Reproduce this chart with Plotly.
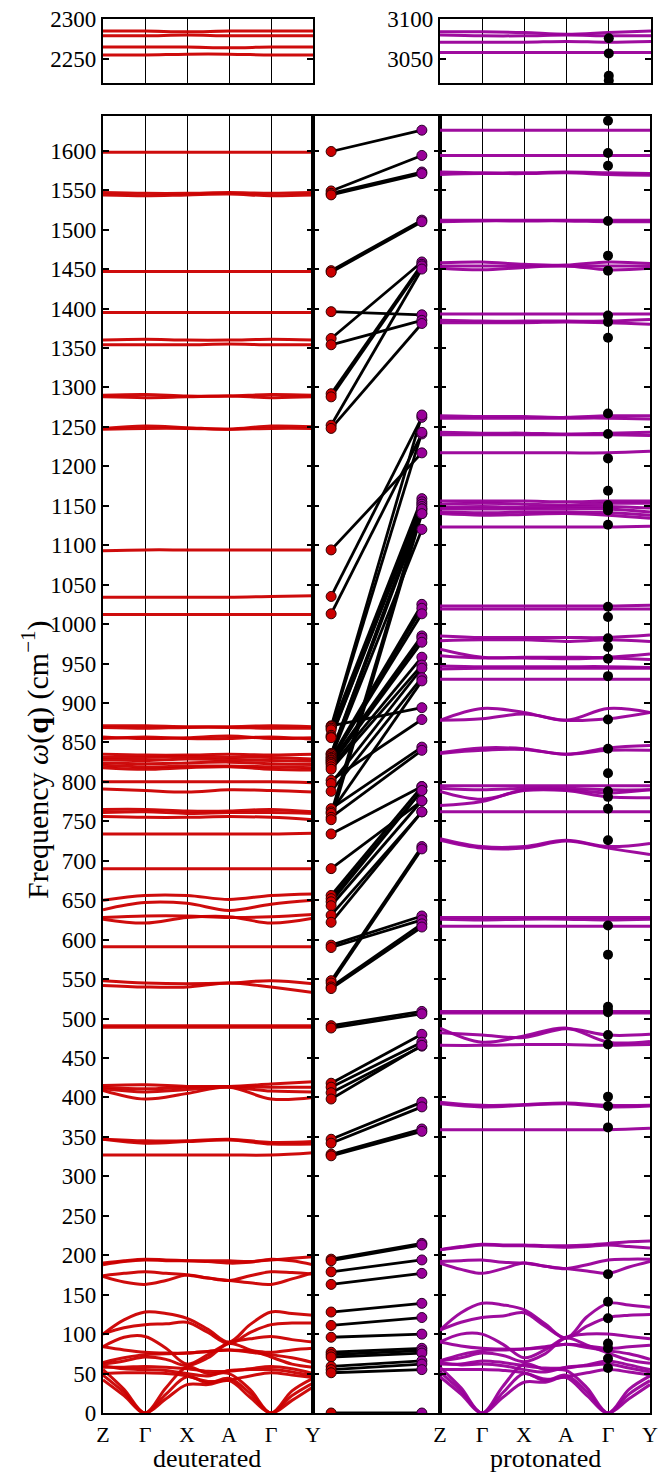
import plotly.graph_objects as go

W, H = 668, 1474
RED = "rgb(204,0,0)"
PUR = "rgb(153,0,153)"
FONT = "Liberation Serif"

K6 = [0, 1, 2, 3, 4, 5]
K11 = [0, 0.5, 1, 1.5, 2, 2.5, 3, 3.5, 4, 4.5, 5]
KLABELS = ["Z", "Γ", "X", "A", "Γ", "Y"]

# ---------------- deuterated bands (values at Z, Γ, X, A, Γ, Y) ----------------
D_TOP = [
    [2285, 2285, 2284, 2285, 2285, 2285],
    [2279, 2279, 2280, 2279, 2279, 2279],
    [2265, 2265, 2265, 2264, 2265, 2265],
    [2255, 2255, 2256, 2256, 2255, 2255],
]
D_BANDS6 = [
    [1598, 1598, 1598, 1598, 1598, 1598],
    [1547, 1546, 1546, 1547, 1546, 1547],
    [1544, 1543, 1544, 1545, 1543, 1544],
    [1447, 1447, 1447, 1447, 1447, 1447],
    [1395, 1395, 1395, 1395, 1395, 1395],
    [1360, 1361, 1360, 1360, 1361, 1360],
    [1354, 1354, 1354, 1355, 1354, 1354],
    [1290, 1291, 1289, 1289, 1291, 1290],
    [1288, 1287, 1288, 1289, 1287, 1288],
    [1248, 1251, 1249, 1247, 1251, 1250],
    [1247, 1248, 1248, 1247, 1248, 1248],
    [1093, 1094, 1094, 1094, 1094, 1094],
    [1034, 1034, 1034, 1034, 1035, 1036],
    [1012, 1012, 1012, 1012, 1012, 1012],
    [871, 871, 870, 870, 871, 870],
    [869, 868, 869, 869, 868, 868],
    [857, 855, 856, 858, 855, 856],
    [855, 857, 855, 855, 857, 854],
    [835, 834, 834, 835, 834, 835],
    [831, 831, 832, 831, 831, 829],
    [828, 827, 829, 828, 827, 826],
    [824, 823, 824, 825, 823, 822],
    [821, 819, 820, 820, 819, 818],
    [818, 816, 818, 819, 816, 815],
    [800, 800, 800, 800, 800, 799],
    [791, 789, 787, 790, 789, 787],
    [765, 765, 763, 763, 765, 762],
    [761, 762, 760, 761, 761, 760],
    [756, 755, 755, 756, 755, 752],
    [734, 734, 734, 734, 734, 735],
    [690, 690, 690, 690, 690, 690],
    [650, 656, 656, 651, 656, 658],
    [638, 647, 646, 637, 645, 650],
    [628, 630, 630, 628, 629, 632],
    [626, 621, 628, 629, 621, 627],
    [591, 591, 591, 591, 591, 591],
    [548, 545, 544, 545, 548, 544],
    [542, 540, 540, 545, 540, 533],
    [491, 491, 491, 491, 491, 491],
    [489, 489, 489, 489, 489, 489],
    [415, 416, 414, 414, 417, 420],
    [413, 411, 413, 414, 413, 413],
    [411, 407, 410, 413, 408, 407],
    [409, 398, 405, 413, 398, 400],
    [347, 345, 345, 347, 343, 344],
    [347, 342, 344, 346, 341, 341],
    [327, 327, 327, 327, 327, 330],
]
# low-frequency deuterated bands (values at Z, ½, Γ, ½, X, ½, A, ½, Γ, ½, Y)
D_BANDS11 = [
    [188, 192, 194, 193, 193, 193, 193, 192, 194, 196, 198],
    [190, 193, 195, 194, 193, 192, 190, 191, 195, 193, 188],
    [174, 177, 179, 177, 175, 171, 168, 174, 179, 178, 176],
    [173, 166, 163, 168, 175, 171, 168, 165, 163, 170, 178],
    [100, 118, 128, 126, 120, 106, 90, 112, 128, 126, 124],
    [100, 108, 112, 113, 115, 102, 88, 102, 112, 114, 114],
    [84, 96, 97, 82, 62, 74, 89, 94, 97, 93, 90],
    [84, 80, 77, 76, 76, 78, 80, 79, 77, 80, 82],
    [64, 70, 74, 75, 76, 78, 80, 77, 74, 70, 64],
    [62, 66, 71, 68, 60, 70, 88, 80, 71, 62, 58],
    [58, 58, 59, 58, 56, 53, 53, 56, 59, 56, 50],
    [60, 56, 55, 54, 50, 47, 54, 55, 55, 52, 47],
    [50, 51, 51, 50, 47, 40, 42, 47, 51, 48, 45],
    [55, 30, 0, 32, 58, 50, 50, 30, 0, 28, 44],
    [48, 26, 0, 24, 46, 38, 44, 25, 0, 22, 38],
    [42, 22, 0, 18, 36, 36, 41, 20, 0, 16, 33],
]

# ---------------- protonated bands ----------------
P_TOP = [
    [3084, 3084, 3083, 3081, 3083, 3085],
    [3080, 3079, 3079, 3080, 3079, 3079],
    [3071, 3071, 3071, 3072, 3071, 3072],
    [3058, 3058, 3058, 3058, 3058, 3058],
]
P_BANDS6 = [
    [1626, 1626, 1626, 1626, 1626, 1626],
    [1594, 1594, 1594, 1594, 1594, 1594],
    [1573, 1572, 1572, 1573, 1572, 1571],
    [1570, 1571, 1571, 1572, 1570, 1569],
    [1512, 1512, 1512, 1512, 1512, 1512],
    [1510, 1511, 1511, 1511, 1510, 1510],
    [1458, 1459, 1456, 1455, 1459, 1457],
    [1454, 1454, 1454, 1454, 1454, 1454],
    [1451, 1449, 1452, 1454, 1449, 1451],
    [1393, 1393, 1393, 1393, 1393, 1393],
    [1385, 1384, 1384, 1384, 1384, 1386],
    [1382, 1382, 1382, 1383, 1382, 1380],
    [1264, 1263, 1263, 1262, 1264, 1264],
    [1261, 1261, 1261, 1261, 1261, 1260],
    [1243, 1242, 1242, 1241, 1242, 1243],
    [1240, 1240, 1240, 1240, 1240, 1239],
    [1217, 1217, 1217, 1217, 1217, 1219],
    [1156, 1156, 1156, 1155, 1156, 1156],
    [1152, 1153, 1152, 1151, 1153, 1153],
    [1148, 1149, 1148, 1149, 1149, 1147],
    [1146, 1146, 1146, 1146, 1146, 1142],
    [1142, 1141, 1142, 1142, 1141, 1138],
    [1140, 1138, 1139, 1140, 1138, 1134],
    [1123, 1123, 1123, 1123, 1123, 1124],
    [1023, 1023, 1023, 1023, 1023, 1024],
    [1019, 1019, 1019, 1019, 1019, 1019],
    [985, 983, 983, 983, 983, 986],
    [979, 980, 980, 978, 980, 978],
    [968, 958, 958, 958, 958, 962],
    [960, 957, 957, 956, 957, 955],
    [947, 946, 946, 946, 946, 945],
    [943, 944, 944, 944, 944, 944],
    [930, 930, 930, 930, 930, 930],
    [878, 893, 888, 878, 893, 888],
    [878, 880, 886, 878, 880, 888],
    [837, 843, 842, 835, 843, 846],
    [836, 840, 841, 835, 840, 840],
    [795, 795, 795, 795, 795, 795],
    [792, 790, 792, 792, 790, 790],
    [788, 778, 789, 789, 781, 780],
    [770, 775, 790, 790, 786, 790],
    [762, 762, 762, 762, 762, 762],
    [728, 718, 718, 726, 718, 722],
    [726, 716, 716, 725, 716, 708],
    [628, 628, 628, 628, 628, 628],
    [626, 625, 626, 626, 625, 626],
    [617, 617, 617, 617, 617, 617],
    [509, 509, 509, 509, 509, 509],
    [507, 507, 507, 507, 507, 507],
    [488, 470, 478, 488, 470, 471],
    [482, 479, 476, 487, 479, 480],
    [466, 466, 467, 467, 466, 467],
    [394, 390, 391, 393, 390, 390],
    [392, 388, 390, 392, 388, 389],
    [359, 359, 359, 359, 359, 361],
]
P_BANDS11 = [
    [207, 211, 214, 213, 213, 212, 212, 213, 215, 217, 218],
    [207, 210, 213, 212, 212, 211, 210, 211, 213, 211, 209],
    [192, 193, 194, 191, 190, 186, 183, 188, 194, 195, 195],
    [190, 182, 177, 183, 190, 186, 183, 180, 177, 185, 192],
    [105, 127, 139, 137, 131, 113, 95, 122, 139, 137, 134],
    [105, 115, 121, 123, 127, 110, 95, 110, 121, 124, 125],
    [90, 100, 100, 87, 70, 80, 96, 100, 100, 97, 94],
    [90, 85, 82, 81, 81, 84, 87, 85, 82, 84, 86],
    [66, 74, 79, 80, 81, 83, 87, 83, 79, 75, 68],
    [66, 70, 76, 73, 65, 75, 95, 86, 76, 67, 63],
    [62, 62, 66, 64, 60, 57, 57, 61, 66, 61, 55],
    [64, 61, 62, 60, 55, 52, 58, 60, 62, 57, 52],
    [55, 55, 55, 54, 51, 43, 46, 51, 55, 52, 48],
    [58, 32, 0, 34, 62, 55, 54, 32, 0, 30, 47],
    [52, 28, 0, 26, 50, 41, 48, 27, 0, 24, 41],
    [46, 24, 0, 20, 39, 39, 45, 22, 0, 18, 36],
]

# measured frequencies at Γ (black dots, protonated panel)
P_MEAS_TOP = [3076, 3057, 3029, 3023]
P_MEAS = [1638, 1597, 1581, 1511, 1467, 1448, 1391, 1383, 1363, 1267, 1241,
          1210, 1169, 1151, 1148, 1144, 1126, 1022, 1009, 982, 971, 956, 934,
          879, 842, 811, 788, 781, 766, 726, 618, 581, 515, 510, 508, 479,
          467, 401, 389, 362, 176, 141, 120, 88, 82, 69, 57]

# Γ-point mode correspondence (deuterated -> protonated)
MID_DEUT = [1599, 1549, 1546, 1544, 1448, 1446, 1396, 1362, 1354, 1292,
            1288, 1252, 1248, 1094, 1035, 1013,
            871, 870, 868, 866, 859, 857, 856, 836, 835, 833,
            831, 830, 828, 827, 825, 824, 822, 819, 816, 802,
            798, 788, 766, 762, 760, 755, 752,
            734, 690, 656, 652, 648, 643, 631, 622, 593, 590,
            548, 545, 540, 538, 491, 488, 418, 413, 406, 398,
            347, 342, 328, 326, 195, 193, 179, 163, 128, 111,
            96, 77, 74, 71, 59, 55, 51, 0]
MID_PROT = [1626, 1594, 1573, 1571, 1512, 1510, 1392, 1459, 1385, 1456,
            1454, 1450, 1381, 1217, 1262, 1241,
            894, 1265, 1243, 1159, 1155, 1152, 1149, 1146, 1143, 1140,
            1120, 1025, 1020, 1013, 985, 982, 977, 958, 948, 879,
            944, 932, 844, 928, 1146, 840, 1140,
            794, 776, 794, 789, 789, 776, 762, 762, 630, 625,
            718, 715, 620, 616, 509, 506, 480, 470, 465, 466,
            394, 388, 360, 357, 215, 213, 194, 177, 139, 121,
            100, 82, 79, 76, 66, 62, 55, 0]

fig = go.Figure()


def add_bands(bands, color, xa, ya):
    for b in bands:
        ks = K6 if len(b) == 6 else K11
        fig.add_trace(go.Scatter(
            x=ks, y=b, mode="lines", xaxis=xa, yaxis=ya,
            line=dict(color=color, width=3, shape="spline", smoothing=1.0),
            opacity=0.95, hoverinfo="skip", showlegend=False))


add_bands(D_BANDS6 + D_BANDS11, RED, "x", "y")
add_bands(D_TOP, RED, "x4", "y4")
add_bands(P_BANDS6 + P_BANDS11, PUR, "x3", "y3")
add_bands(P_TOP, PUR, "x5", "y5")

# measured points at Γ
fig.add_trace(go.Scatter(x=[K6[4]] * len(P_MEAS), y=P_MEAS, mode="markers",
                         xaxis="x3", yaxis="y3", marker=dict(color="black", size=10),
                         hoverinfo="skip", showlegend=False))
fig.add_trace(go.Scatter(x=[K6[4]] * len(P_MEAS_TOP), y=P_MEAS_TOP, mode="markers",
                         xaxis="x5", yaxis="y5", marker=dict(color="black", size=10),
                         hoverinfo="skip", showlegend=False))

# correspondence lines
lx, ly = [], []
for d, p in zip(MID_DEUT, MID_PROT):
    lx += [0, 1, None]
    ly += [d, p, None]
fig.add_trace(go.Scatter(x=lx, y=ly, mode="lines", xaxis="x2", yaxis="y2",
                         line=dict(color="black", width=2.8), hoverinfo="skip",
                         showlegend=False))
fig.add_trace(go.Scatter(x=[0] * len(MID_DEUT), y=MID_DEUT, mode="markers",
                         xaxis="x2", yaxis="y2",
                         marker=dict(color=RED, size=10, line=dict(color="rgb(50,0,0)", width=1)),
                         hoverinfo="skip", showlegend=False))
fig.add_trace(go.Scatter(x=[1] * len(MID_PROT), y=MID_PROT, mode="markers",
                         xaxis="x2", yaxis="y2",
                         marker=dict(color=PUR, size=10, line=dict(color="rgb(40,0,40)", width=1)),
                         hoverinfo="skip", showlegend=False))


def px_x(a, b):
    return [a / W, b / W]


def px_y(top, bottom):
    return [1 - bottom / H, 1 - top / H]


MAIN_Y = px_y(116, 1413)
TOP_Y = px_y(19, 83)
tickfont = dict(family=FONT, size=23, color="black")
xtickfont = dict(family=FONT, size=22, color="black")

band_x = dict(range=[0, 5], tickvals=K6, ticktext=KLABELS, showgrid=True,
              gridcolor="black", gridwidth=1.2, showline=True, linecolor="black",
              linewidth=2.4, mirror=True, ticks="", zeroline=False, tickfont=xtickfont,
              automargin=False, fixedrange=True)
y_common = dict(showline=True, linecolor="black", linewidth=2.4, mirror="ticks",
                ticks="inside", ticklen=6, tickwidth=1.5, tickcolor="black",
                showgrid=False, zeroline=False, tickfont=tickfont, automargin=False)

fig.update_layout(
    width=W, height=H, margin=dict(l=0, r=0, t=0, b=0, pad=0), autosize=False,
    paper_bgcolor="white", plot_bgcolor="white", showlegend=False,
    xaxis=dict(band_x, domain=px_x(103, 313), anchor="y"),
    yaxis=dict(y_common, domain=MAIN_Y, range=[0, 1644], tick0=0, dtick=50, anchor="x"),
    xaxis2=dict(domain=px_x(313, 440), range=[-0.2, 1.2], showgrid=False, showline=True,
                linecolor="black", linewidth=2.4, mirror=True, ticks="",
                showticklabels=False, zeroline=False, automargin=False, anchor="y2"),
    yaxis2=dict(y_common, domain=MAIN_Y, range=[0, 1644], tick0=0, dtick=50,
                showticklabels=False, anchor="x2"),
    xaxis3=dict(band_x, domain=px_x(440, 650), anchor="y3"),
    yaxis3=dict(y_common, domain=MAIN_Y, range=[0, 1644], tick0=0, dtick=50,
                showticklabels=False, anchor="x3"),
    xaxis4=dict(band_x, domain=px_x(103, 313), showticklabels=False, anchor="y4"),
    yaxis4=dict(y_common, domain=TOP_Y, range=[2220, 2300], tickvals=[2250, 2300], anchor="x4"),
    xaxis5=dict(band_x, domain=px_x(440, 651), showticklabels=False, anchor="y5"),
    yaxis5=dict(y_common, domain=TOP_Y, range=[3020, 3100], tickvals=[3050, 3100], anchor="x5"),
)

fig.add_annotation(text="deuterated", x=207 / W, y=0, xref="paper", yref="paper",
                   xanchor="center", yanchor="bottom", showarrow=False, borderpad=0,
                   font=dict(family=FONT, size=26, color="black"))
fig.add_annotation(text="protonated", x=545 / W, y=0, xref="paper", yref="paper",
                   xanchor="center", yanchor="bottom", showarrow=False, borderpad=0,
                   font=dict(family=FONT, size=26, color="black"))
fig.add_annotation(text="Frequency <i>ω</i>(<b>q</b>) (cm<sup>−1</sup>)", x=35 / W, y=1 - 760 / H,
                   xref="paper", yref="paper", xanchor="center", yanchor="middle",
                   showarrow=False, textangle=-90,
                   font=dict(family=FONT, size=30, color="black"))

fig.write_html("out.html")
